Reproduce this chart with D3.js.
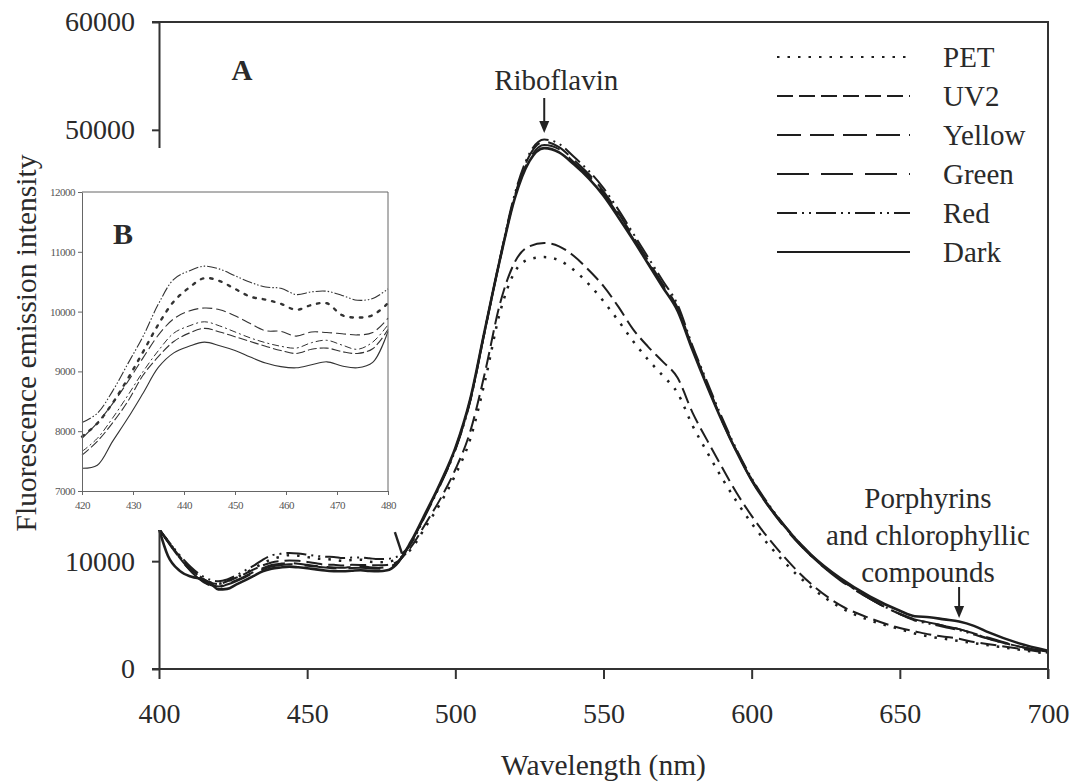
<!DOCTYPE html>
<html>
<head>
<meta charset="utf-8">
<script src="https://cdn.jsdelivr.net/npm/d3@7"></script>
<style>
  html, body { margin: 0; padding: 0; background: #fff; }
  svg text { font-family: "Liberation Serif", "Times New Roman", serif; }
  .main-axis text { font-size: 28px; fill: #2a2a2a; }
  .main-axis line, .main-axis path { stroke: #333; stroke-width: 2; }
  .inset-axis text { font-size: 11px; fill: #555; letter-spacing: -0.5px; }
  .inset-axis line, .inset-axis path { stroke: #666; stroke-width: 1; }
</style>
</head>
<body>
<svg id="chart" width="1072" height="784"></svg>
<script>
// series names, in legend order
const seriesNames = ["PET", "UV2", "Yellow", "Green", "Red", "Dark"];

// start of the spectra (400 nm), mostly hidden under the inset
const startWl = 400;
const startValue = 13000;
const darkHeadWl = [400, 403, 407, 411, 415, 418];
const darkHead = [13000, 10500, 9100, 8550, 8300, 7800];

const insetWl = [420, 423, 426, 429, 432, 435, 438, 441, 444, 447, 450, 453, 456, 459, 462, 465, 468, 471, 474, 477, 480];
const petInset    = [7910, 8130, 8470, 8880, 9330, 9790, 10170, 10400, 10560, 10510, 10380, 10250, 10200, 10130, 10030, 10110, 10140, 9940, 9900, 9940, 10140];
const uv2Inset    = [7880, 8140, 8460, 8830, 9230, 9610, 9880, 10010, 10060, 10030, 9930, 9800, 9680, 9670, 9590, 9660, 9650, 9630, 9610, 9650, 9890];
const yellowInset = [7660, 7880, 8220, 8600, 9000, 9350, 9640, 9760, 9830, 9760, 9660, 9560, 9480, 9420, 9390, 9480, 9520, 9440, 9370, 9490, 9780];
const greenInset  = [7600, 7830, 8140, 8500, 8940, 9250, 9500, 9640, 9720, 9660, 9580, 9500, 9420, 9350, 9300, 9370, 9390, 9330, 9300, 9380, 9700];
const redInset    = [8144, 8300, 8670, 9130, 9590, 10130, 10540, 10680, 10760, 10710, 10600, 10490, 10410, 10390, 10285, 10330, 10340, 10270, 10190, 10220, 10380];
const darkInset   = [7380, 7430, 7830, 8220, 8640, 9070, 9310, 9420, 9490, 9430, 9350, 9240, 9140, 9080, 9060, 9110, 9160, 9090, 9060, 9150, 9670];

// 485-700 nm, main plot A
const tailWl = [485, 490, 495, 500, 505, 510, 515, 520, 525, 530, 535, 540, 545, 550, 555, 560, 565, 570, 575, 580, 585, 590, 595, 600, 610, 620, 630, 640, 650, 655, 660, 665, 670, 675, 680, 690, 700];
const petTail    = [11100, 13200, 15400, 18000, 21300, 26700, 33000, 36800, 38000, 38200, 37900, 37000, 35700, 34100, 32300, 30400, 28700, 27200, 25600, 22600, 20100, 17700, 15500, 13500, 10200, 7600, 5700, 4500, 3700, 3300, 3000, 2800, 2600, 2400, 2200, 1800, 1400];
const uv2Tail    = [11300, 13500, 15800, 18500, 22000, 27500, 33800, 37700, 39200, 39500, 39200, 38300, 37000, 35500, 33600, 31500, 29900, 28500, 27000, 23800, 21200, 18700, 16300, 14200, 10700, 7900, 5900, 4700, 3800, 3500, 3200, 3000, 2800, 2500, 2300, 1900, 1500];
const yellowTail = [11700, 14400, 17200, 20400, 24900, 31400, 37900, 43800, 47600, 48900, 48400, 47200, 45900, 44300, 42300, 40100, 37900, 35700, 33500, 29800, 26400, 23100, 20200, 17600, 13600, 10500, 8300, 6500, 5100, 4600, 4300, 4000, 3700, 3300, 2900, 2100, 1600];
const greenTail  = [11700, 14400, 17200, 20400, 24900, 31500, 37900, 43700, 47300, 48600, 48200, 47000, 45700, 44100, 42100, 39900, 37700, 35500, 33300, 29700, 26300, 23000, 20100, 17500, 13500, 10500, 8200, 6500, 5100, 4600, 4300, 4000, 3700, 3300, 2800, 2100, 1600];
const redTail    = [11600, 14300, 17100, 20300, 24800, 31400, 38000, 44000, 47800, 49100, 48700, 47500, 46200, 44600, 42600, 40400, 38200, 36000, 33800, 30000, 26600, 23300, 20300, 17700, 13700, 10600, 8300, 6500, 5100, 4500, 4200, 3900, 3600, 3200, 2800, 2100, 1600];
const darkTail   = [11800, 14500, 17300, 20500, 25000, 31500, 37900, 43600, 47100, 48300, 47900, 46800, 45500, 43900, 41900, 39800, 37600, 35400, 33200, 29600, 26200, 23000, 20100, 17500, 13600, 10600, 8400, 6700, 5400, 4900, 4800, 4600, 4400, 4000, 3400, 2400, 1700];

const mainXTicks = [400, 450, 500, 550, 600, 650, 700];
// 20000-40000 sit behind the inset in the original, so only these are shown
const mainYTicks = [0, 10000, 50000, 60000];
const insetXTicks = [420, 430, 440, 450, 460, 470, 480];
const insetYTicks = [7000, 8000, 9000, 10000, 11000, 12000];

const insetValues = [petInset, uv2Inset, yellowInset, greenInset, redInset, darkInset];
const tailValues = [petTail, uv2Tail, yellowTail, greenTail, redTail, darkTail];

// line styles per series (main plot / inset)
const dashMain = ["2.5,8", "16,6", "24,9", "32,12", "20,5,2,5,2,5", null];
const widthMain = [2.5, 2, 2, 2, 2, 2.6];
const dashInset = ["2.5,7", "10,4", "7,3,2,3", "9,3", "10,2,1.5,2,1.5,2", null];
const widthInset = [2.4, 1.1, 1, 1.1, 1.1, 1.1];

const serif = "'Liberation Serif', 'Times New Roman', serif";
const textColor = "#2a2a2a";
const zip = (xs, ys) => xs.map((x, i) => [x, ys[i]]);

const series = seriesNames.map((name, i) => {
  const head = name === "Dark" ? zip(darkHeadWl, darkHead) : [[startWl, startValue]];
  const inset = zip(insetWl, insetValues[i]);
  return { name, inset, main: head.concat(inset, zip(tailWl, tailValues[i])) };
});

const svg = d3.select("#chart");

// ---------- main plot A ----------
const x = d3.scaleLinear().domain([400, 700]).range([159, 1048]);
const y = d3.scaleLinear().domain([0, 60000]).range([669, 22]);

const mainLine = d3.line()
  .x((d) => x(d[0]))
  .y((d) => y(d[1]))
  .curve(d3.curveMonotoneX);

svg.append("g")
  .selectAll("path.main-series")
  .data(series)
  .join("path")
  .attr("class", "main-series")
  .attr("d", (d) => mainLine(d.main))
  .attr("fill", "none")
  .attr("stroke", "#1e1e1e")
  .attr("stroke-width", (d, i) => widthMain[i])
  .attr("stroke-dasharray", (d, i) => dashMain[i]);

svg.append("g")
  .attr("class", "main-axis")
  .attr("transform", `translate(0,${y(0)})`)
  .call(d3.axisBottom(x).tickValues(mainXTicks).tickSize(10).tickSizeOuter(0).tickPadding(24))
  .call((g) => g.attr("font-family", serif))
  .call((g) => g.select(".domain").attr("d", `M${x(400) - 7},0H${x(700)}`));

svg.append("g")
  .attr("class", "main-axis")
  .attr("transform", `translate(${x(400)},0)`)
  .call(d3.axisLeft(y).tickValues(mainYTicks).tickSize(7).tickSizeOuter(0).tickPadding(17).tickFormat(d3.format("d")))
  .call((g) => g.attr("font-family", serif));

// top and right frame lines
svg.append("path")
  .attr("d", `M${x(400) - 7},${y(60000)}H${x(700)}V${y(0) + 10}`)
  .attr("fill", "none")
  .attr("stroke", "#333")
  .attr("stroke-width", 2);

svg.append("text")
  .attr("x", 242)
  .attr("y", 80)
  .attr("text-anchor", "middle")
  .attr("font-family", serif)
  .attr("font-size", 29)
  .attr("font-weight", "bold")
  .attr("fill", textColor)
  .text("A");

// legend
const legend = svg.append("g")
  .selectAll("g.legend-item")
  .data(series)
  .join("g")
  .attr("class", "legend-item")
  .attr("transform", (d, i) => `translate(777,${57 + i * 39})`);

legend.append("line")
  .attr("x1", 0)
  .attr("x2", 133)
  .attr("stroke", "#1e1e1e")
  .attr("stroke-width", 2)
  .attr("stroke-dasharray", (d, i) => dashMain[i]);

legend.append("text")
  .attr("x", 166)
  .attr("dy", "0.35em")
  .attr("font-family", serif)
  .attr("font-size", 29)
  .attr("fill", textColor)
  .text((d) => d.name);

// annotations
function arrowDown(xPos, yTop, yTip) {
  svg.append("line")
    .attr("x1", xPos).attr("x2", xPos)
    .attr("y1", yTop).attr("y2", yTip - 8)
    .attr("stroke", "#222").attr("stroke-width", 2);
  svg.append("path")
    .attr("d", `M${xPos - 5},${yTip - 12}L${xPos + 5},${yTip - 12}L${xPos},${yTip}Z`)
    .attr("fill", "#222");
}

svg.append("text")
  .attr("x", x(530) + 12)
  .attr("y", 90)
  .attr("text-anchor", "middle")
  .attr("font-family", serif)
  .attr("font-size", 29)
  .attr("fill", textColor)
  .text("Riboflavin");
arrowDown(x(530), 98, 133);

svg.append("text")
  .attr("x", 928)
  .attr("y", 508)
  .attr("text-anchor", "middle")
  .attr("font-family", serif)
  .attr("font-size", 29)
  .attr("fill", textColor)
  .selectAll("tspan")
  .data(["Porphyrins", "and chlorophyllic", "compounds"])
  .join("tspan")
  .attr("x", 928)
  .attr("dy", (d, i) => (i === 0 ? 0 : 37))
  .text((d) => d);
arrowDown(x(670), 587, 618);

svg.append("text")
  .attr("x", (x(400) + x(700)) / 2)
  .attr("y", 775)
  .attr("text-anchor", "middle")
  .attr("font-family", serif)
  .attr("font-size", 29.5)
  .attr("fill", textColor)
  .text("Wavelength (nm)");

// ---------- inset B ----------
const ix = d3.scaleLinear().domain([420, 480]).range([82, 388]);
const iy = d3.scaleLinear().domain([7000, 12000]).range([491, 192]);

svg.append("rect")
  .attr("x", 40)
  .attr("y", 148)
  .attr("width", 358)
  .attr("height", 382)
  .attr("fill", "#fff");

// pointer from the inset to the 480 nm region of plot A
svg.append("line")
  .attr("x1", x(479.6)).attr("y1", y(12700))
  .attr("x2", x(482)).attr("y2", y(10700))
  .attr("stroke", "#222").attr("stroke-width", 2.4);

const insetLine = d3.line()
  .x((d) => ix(d[0]))
  .y((d) => iy(d[1]))
  .curve(d3.curveCatmullRom);

svg.append("g")
  .selectAll("path.inset-series")
  .data(series)
  .join("path")
  .attr("class", "inset-series")
  .attr("d", (d) => insetLine(d.inset))
  .attr("fill", "none")
  .attr("stroke", "#333")
  .attr("stroke-width", (d, i) => widthInset[i])
  .attr("stroke-linecap", (d, i) => (i === 0 ? "round" : "butt"))
  .attr("stroke-dasharray", (d, i) => dashInset[i]);

svg.append("g")
  .attr("class", "inset-axis")
  .attr("transform", `translate(0,${iy(7000)})`)
  .call(d3.axisBottom(ix).tickValues(insetXTicks).tickSize(4).tickSizeOuter(0).tickPadding(6))
  .call((g) => g.attr("font-family", serif));

svg.append("g")
  .attr("class", "inset-axis")
  .attr("transform", `translate(${ix(420)},0)`)
  .call(d3.axisLeft(iy).tickValues(insetYTicks).tickSize(4).tickSizeOuter(0).tickPadding(3).tickFormat(d3.format("d")))
  .call((g) => g.attr("font-family", serif));

svg.append("path")
  .attr("d", `M${ix(420)},${iy(12000)}H${ix(480)}V${iy(7000)}`)
  .attr("fill", "none")
  .attr("stroke", "#666")
  .attr("stroke-width", 1);

svg.append("text")
  .attr("x", 113)
  .attr("y", 244)
  .attr("font-family", serif)
  .attr("font-size", 30)
  .attr("font-weight", "bold")
  .attr("fill", textColor)
  .text("B");

// y axis title, drawn over the inset background
svg.append("text")
  .attr("transform", "translate(36,343) rotate(-90)")
  .attr("text-anchor", "middle")
  .attr("font-family", serif)
  .attr("font-size", 29.5)
  .attr("fill", textColor)
  .text("Fluorescence emission intensity");
</script>
</body>
</html>
